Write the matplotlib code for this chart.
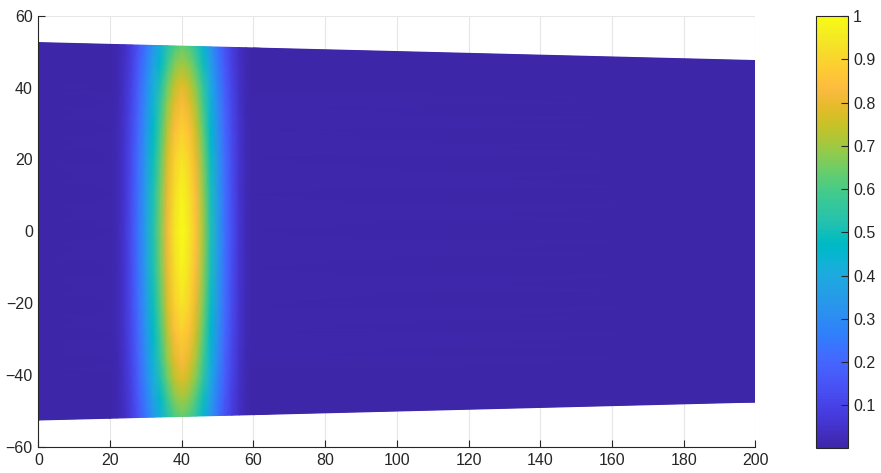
import numpy as np
import matplotlib
matplotlib.use("Agg")
import matplotlib.pyplot as plt
from matplotlib.colors import LinearSegmentedColormap, Normalize
from matplotlib.ticker import FixedLocator

plt.rcParams['font.family'] = ['Liberation Sans', 'DejaVu Sans']

# ---- data ----
# pulse amplitude along the centreline (x position -> value)
pulse_x = [0, 20, 22, 24, 26, 28, 30, 32, 34, 36, 38, 40, 42, 44, 46, 48, 50, 52, 54, 56, 58, 60, 200]
pulse_v = [0.003, 0.006, 0.02, 0.06, 0.13, 0.24, 0.37, 0.52, 0.66, 0.82, 0.94, 1.0, 0.95, 0.85, 0.70, 0.52, 0.36, 0.23, 0.13, 0.06, 0.02, 0.006, 0.003]
# transverse amplitude factor (relative position across channel -> factor)
cross_eta = [-1.0, -0.9, -0.8, -0.7, -0.55, -0.4, -0.2, 0.0, 0.2, 0.4, 0.55, 0.7, 0.8, 0.9, 1.0]
cross_f = [0.64, 0.71, 0.78, 0.83, 0.89, 0.94, 0.98, 1.0, 0.98, 0.94, 0.89, 0.83, 0.78, 0.71, 0.64]
# channel half-width at the two ends
end_x = [0, 200]
end_halfwidth = [52.5, 47.5]

x_ticks = list(range(0, 201, 20))
y_ticks = list(range(-60, 61, 20))
cbar_ticks = [0.1, 0.2, 0.3, 0.4, 0.5, 0.6, 0.7, 0.8, 0.9, 1.0]
cbar_labels = ['0.1', '0.2', '0.3', '0.4', '0.5', '0.6', '0.7', '0.8', '0.9', '1']
clim = (0.001, 1.0)

# ---- parula colormap ----
parula_data = [
    [0.2422, 0.1504, 0.6603], [0.2504, 0.1650, 0.7076], [0.2578, 0.1818, 0.7511],
    [0.2647, 0.1978, 0.7952], [0.2706, 0.2147, 0.8364], [0.2751, 0.2342, 0.8710],
    [0.2783, 0.2559, 0.8991], [0.2803, 0.2782, 0.9221], [0.2813, 0.3006, 0.9414],
    [0.2810, 0.3228, 0.9579], [0.2795, 0.3447, 0.9717], [0.2760, 0.3667, 0.9829],
    [0.2699, 0.3892, 0.9906], [0.2602, 0.4123, 0.9952], [0.2440, 0.4358, 0.9988],
    [0.2206, 0.4603, 0.9973], [0.1963, 0.4847, 0.9892], [0.1834, 0.5074, 0.9798],
    [0.1786, 0.5289, 0.9682], [0.1764, 0.5499, 0.9520], [0.1687, 0.5703, 0.9359],
    [0.1540, 0.5902, 0.9218], [0.1460, 0.6091, 0.9079], [0.1380, 0.6276, 0.8973],
    [0.1248, 0.6459, 0.8883], [0.1113, 0.6635, 0.8763], [0.0952, 0.6798, 0.8598],
    [0.0689, 0.6948, 0.8394], [0.0297, 0.7082, 0.8163], [0.0036, 0.7203, 0.7917],
    [0.0067, 0.7312, 0.7660], [0.0433, 0.7411, 0.7394], [0.0964, 0.7500, 0.7120],
    [0.1408, 0.7584, 0.6842], [0.1717, 0.7670, 0.6554], [0.1938, 0.7758, 0.6251],
    [0.2161, 0.7843, 0.5923], [0.2470, 0.7918, 0.5567], [0.2906, 0.7973, 0.5188],
    [0.3406, 0.8008, 0.4789], [0.3909, 0.8029, 0.4354], [0.4456, 0.8024, 0.3909],
    [0.5044, 0.7993, 0.3480], [0.5616, 0.7942, 0.3045], [0.6174, 0.7876, 0.2612],
    [0.6720, 0.7793, 0.2227], [0.7242, 0.7698, 0.1910], [0.7738, 0.7598, 0.1646],
    [0.8203, 0.7498, 0.1535], [0.8634, 0.7406, 0.1596], [0.9035, 0.7330, 0.1774],
    [0.9393, 0.7288, 0.2100], [0.9728, 0.7298, 0.2394], [0.9956, 0.7434, 0.2371],
    [0.9970, 0.7659, 0.2199], [0.9952, 0.7893, 0.2028], [0.9892, 0.8136, 0.1885],
    [0.9786, 0.8386, 0.1766], [0.9676, 0.8639, 0.1643], [0.9610, 0.8890, 0.1537],
    [0.9597, 0.9135, 0.1423], [0.9628, 0.9373, 0.1265], [0.9691, 0.9606, 0.1064],
    [0.9769, 0.9839, 0.0805]]
parula = LinearSegmentedColormap.from_list('parula', parula_data, N=256)

# ---- build mesh on the read nodes ----
px = np.array(pulse_x, dtype=float)
pv = np.array(pulse_v, dtype=float)
eta = np.array(cross_eta, dtype=float)
fy = np.array(cross_f, dtype=float)
hw = end_halfwidth[0] + (end_halfwidth[1] - end_halfwidth[0]) * (px - end_x[0]) / (end_x[1] - end_x[0])
X = np.tile(px, (len(eta), 1))
Y = np.outer(eta, hw)
Z = np.outer(fy, pv)

fig = plt.figure(figsize=(8.81, 4.73), dpi=100)
ax = fig.add_axes([0.0435, 0.0550, 0.8140, 0.9120])
norm = Normalize(vmin=clim[0], vmax=clim[1])

# solid backdrop in the lowest colour so triangle seams don't show
ax.fill([end_x[0], end_x[1], end_x[1], end_x[0]],
        [-end_halfwidth[0], -end_halfwidth[1], end_halfwidth[1], end_halfwidth[0]],
        color=parula(norm(min(pulse_v))), linewidth=0, zorder=1.5)
mesh = ax.pcolormesh(X, Y, Z, cmap=parula, norm=norm, shading='gouraud', zorder=2)

ax.set_xlim(0, 200)
ax.set_ylim(-60, 60)
ax.xaxis.set_major_locator(FixedLocator(x_ticks))
ax.yaxis.set_major_locator(FixedLocator(y_ticks))
ax.grid(True, color='#e6e6e6', linewidth=0.8, zorder=0)
ax.set_axisbelow(True)
for s in ['top', 'right']:
    ax.spines[s].set_visible(False)
for s in ['left', 'bottom']:
    ax.spines[s].set_color('#262626')
    ax.spines[s].set_linewidth(0.8)
ax.tick_params(direction='in', length=5, width=0.8, color='#262626',
               labelsize=11.5, labelcolor='#262626', pad=4)

cax = fig.add_axes([0.9257, 0.0522, 0.0363, 0.9140])
cb = fig.colorbar(mesh, cax=cax)
cb.set_ticks(cbar_ticks)
cb.set_ticklabels(cbar_labels)
cb.outline.set_edgecolor('#262626')
cb.outline.set_linewidth(0.8)
cax.tick_params(direction='in', length=5, width=0.8, color='#262626',
                labelsize=11.5, labelcolor='#262626', pad=4)

fig.savefig('out.png', dpi=100)
